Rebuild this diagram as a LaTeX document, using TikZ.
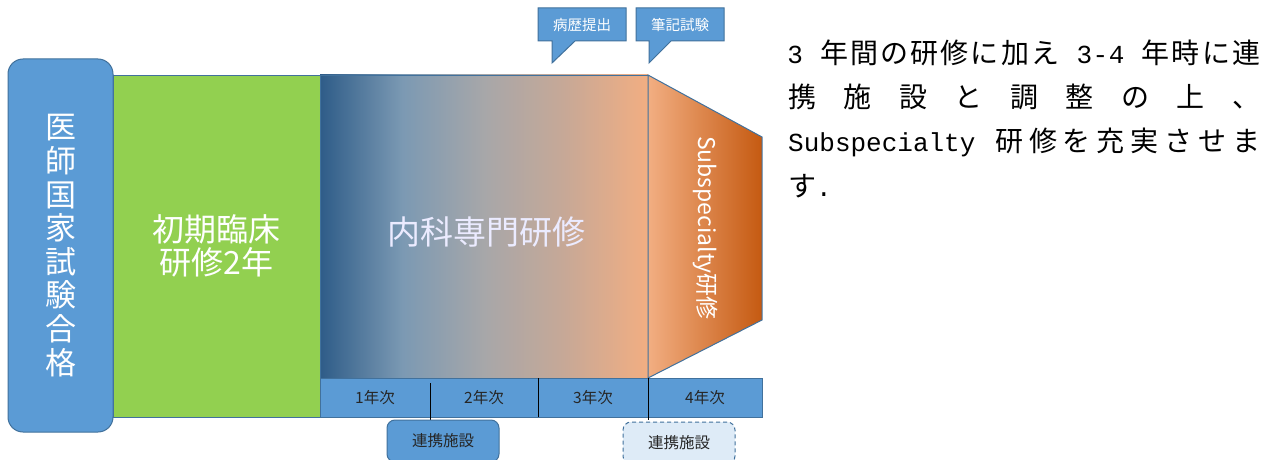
\documentclass[tikz,border=0pt]{standalone}
\usepackage{fontspec}
\usetikzlibrary{calc}
\newfontfamily\jpfont{Noto Sans CJK JP}
\newfontfamily\monofont{Liberation Mono}
\definecolor{bluefill}{HTML}{5B9BD5}
\definecolor{blueline}{HTML}{41719C}
\definecolor{greenfill}{HTML}{92D050}
\definecolor{darkblue}{HTML}{2E5C88}
\definecolor{gradA}{HTML}{7B99B3}
\definecolor{gradB}{HTML}{A7A7A9}
\definecolor{gradC}{HTML}{C6A897}
\definecolor{peach}{HTML}{F2AE82}
\definecolor{rust}{HTML}{C55A11}
\definecolor{paleblue}{HTML}{DEEBF7}
\definecolor{labeltext}{HTML}{262626}
\pgfdeclarehorizontalshading{naikashade}{100bp}{color(0bp)=(darkblue); color(25bp)=(darkblue); color(37.5bp)=(gradA); color(50bp)=(gradB); color(62bp)=(gradC); color(75bp)=(peach); color(100bp)=(peach)}
\newcommand\zf[1]{\makebox[28pt]{\jpfont #1}}
\newcommand\zh[1]{\makebox[14pt]{\monofont\fontsize{26}{26}\selectfont #1}}
\tikzset{
  box/.style={rectangle, inner sep=0pt, outer sep=0pt, line width=1pt},
  bigtext/.style={text=white, font=\jpfont\fontsize{32}{33}\selectfont, align=center},
  yearbox/.style={box, fill=bluefill, minimum height=39pt, text=labeltext, font=\jpfont\fontsize{15.5}{16}\selectfont},
  callout/.style={box, minimum width=88pt, minimum height=33pt, text=white, font=\jpfont\fontsize{14.5}{15}\selectfont},
  partner/.style={box, rounded corners=8pt, minimum width=112pt, minimum height=42pt, draw=blueline, text=labeltext, font=\jpfont\fontsize{15.5}{16}\selectfont},
  bodyline/.style={anchor=west, inner sep=0pt, font=\jpfont\fontsize{28}{28}\selectfont},
}
\begin{document}
\begin{tikzpicture}[x=1pt,y=-1pt]
\clip (0,0) rectangle (1280,460);
\fill[white] (0,0) rectangle (1280,460);

% green block
\node[box, fill=greenfill, draw=blueline, line width=0.6pt, minimum width=207pt, minimum height=342pt,
      bigtext] (init) at (216.5,246) {初期臨床\\研修2年};

% exam pass block
\node[box, fill=bluefill, draw=blueline, rounded corners=15pt, minimum width=105pt, minimum height=373pt,
      text=white, font=\jpfont\fontsize{31}{33.6}\selectfont, align=center] (pass) at (60.5,245.5)
      {医\\師\\国\\家\\試\\験\\合\\格};

% internal medicine gradient block
\node[box, shading=naikashade, draw=blueline, line width=0.6pt,
      minimum width=328pt, minimum height=303pt] (naika) at (484,226.5) {};
\node[text=white!92!blue, font=\jpfont\fontsize{33}{33}\selectfont] (naikatext) at (486,232) {内科専門研修};

% subspecialty trapezoid
\coordinate (t1) at (648,75);
\coordinate (t2) at (762,137);
\coordinate (t3) at (762,320);
\coordinate (t4) at (648,378);
\shade[left color=peach, right color=rust] (t1) -- (t2) -- (t3) -- (t4) -- cycle;
\draw[blueline, line width=1pt, line join=miter] (t1) -- (t2) -- (t3) -- (t4) -- cycle;
\node[rotate=-90, text=white, font=\jpfont\fontsize{23}{23}\selectfont] (sub) at (705,228) {Subspecialty研修};

% year bar
\node[yearbox, minimum width=110pt] (y1) at (375,397.5) {1年次};
\node[yearbox, minimum width=108pt] (y2) at (484,397.5) {2年次};
\node[yearbox, minimum width=110pt] (y3) at (593,397.5) {3年次};
\node[yearbox, minimum width=114pt] (y4) at (705,397.5) {4年次};
\draw[blueline, line width=1pt] (y1.north west) rectangle (y4.south east);
\draw[black, line width=0.8pt] ($(y1.north east)+(0,5)$) -- ($(y1.south east)+(0,3)$);
\draw[black, line width=0.8pt] (y2.north east) -- (y2.south east);
\draw[black, line width=0.8pt] (y3.north east) -- ($(y3.south east)+(0,3)$);

% partner facilities
\node[partner, fill=bluefill] (p1) at (443,441) {};
\node[text=labeltext, font=\jpfont\fontsize{15.5}{16}\selectfont] (p1t) at (443,441) {連携施設};
\node[partner, fill=paleblue, dashed, dash pattern=on 4pt off 3pt] (p2) at (679,443) {};
\node[text=labeltext, font=\jpfont\fontsize{15.5}{16}\selectfont] (p2t) at (679,443) {連携施設};

% callouts
\node[callout] (c1) at (582,24.5) {};
\draw[blueline, line width=1pt, fill=bluefill]
  (c1.north west) -- (c1.north east) -- (c1.south east) -- ($(c1.south west)+(37,0)$)
  -- ($(c1.south west)+(14,22)$) -- ($(c1.south west)+(14,0)$) -- (c1.south west) -- cycle;
\node[text=white, font=\jpfont\fontsize{14.5}{15}\selectfont] (c1t) at (c1.center) {病歴提出};

\node[callout] (c2) at (680,24.5) {};
\draw[blueline, line width=1pt, fill=bluefill]
  (c2.north west) -- (c2.north east) -- (c2.south east) -- ($(c2.south west)+(35,0)$)
  -- ($(c2.south west)+(13,22)$) -- ($(c2.south west)+(13,0)$) -- (c2.south west) -- cycle;
\node[text=white, font=\jpfont\fontsize{14.5}{15}\selectfont] (c2t) at (c2.center) {筆記試験};

% explanatory text
\node[bodyline] (l1) at (788,53) {\makebox[472pt][s]{\zh{3}\hfil\zh{}\hfil\zf{年}\hfil\zf{間}\hfil\zf{の}\hfil\zf{研}\hfil\zf{修}\hfil\zf{に}\hfil\zf{加}\hfil\zf{え}\hfil\zh{}\hfil\zh{3}\hfil\zh{-}\hfil\zh{4}\hfil\zh{}\hfil\zf{年}\hfil\zf{時}\hfil\zf{に}\hfil\zf{連}}};
\node[bodyline] (l2) at (788,97) {\makebox[472pt][s]{\zf{携}\hfil\zf{施}\hfil\zf{設}\hfil\zf{と}\hfil\zf{調}\hfil\zf{整}\hfil\zf{の}\hfil\zf{上}\hfil\zf{、}}};
\node[bodyline] (l3) at (788,142) {\makebox[472pt][s]{{\monofont\fontsize{26}{26}\selectfont Subspecialty}\zh{}\hfil\zf{研}\hfil\zf{修}\hfil\zf{を}\hfil\zf{充}\hfil\zf{実}\hfil\zf{さ}\hfil\zf{せ}\hfil\zf{ま}}};
\node[bodyline] (l4) at (788,186) {\zf{す}{\monofont\fontsize{26}{26}\selectfont .}};
\end{tikzpicture}
\end{document}
